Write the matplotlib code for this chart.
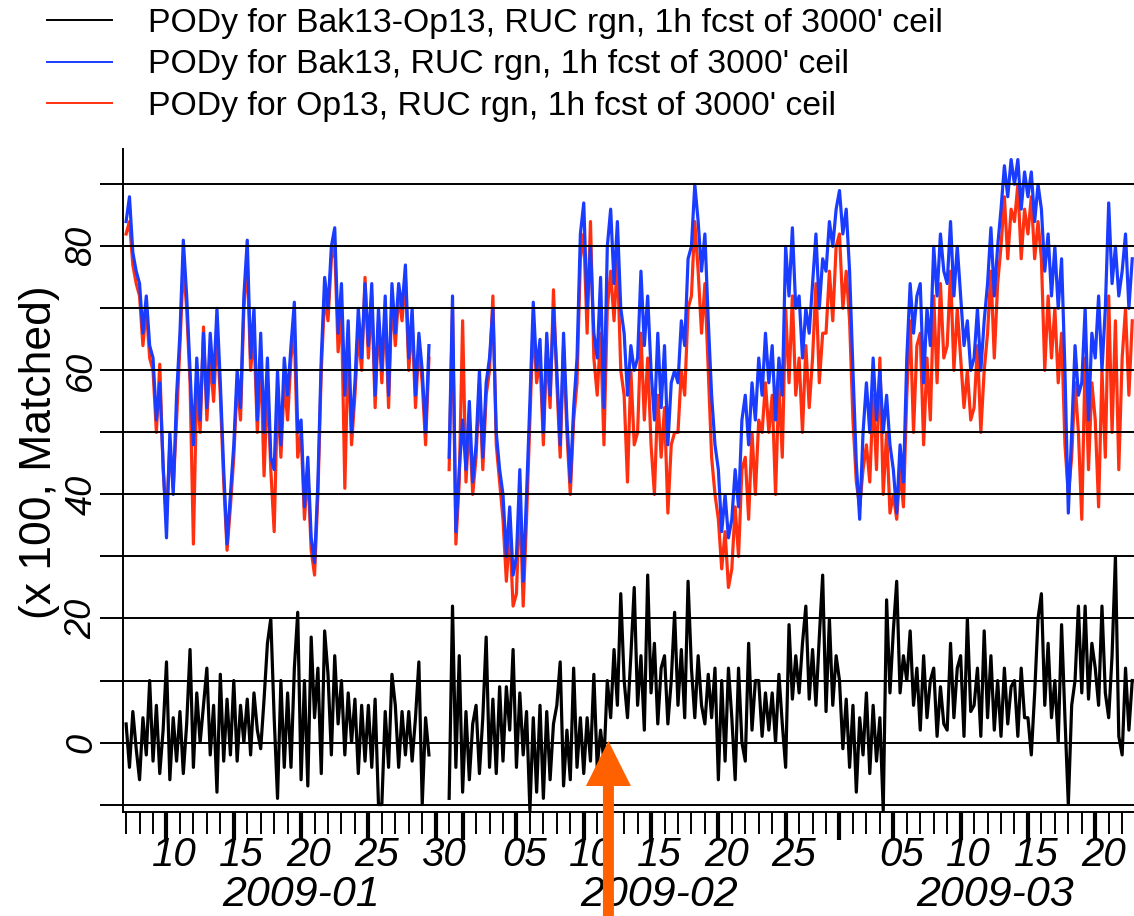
import numpy as np
import pandas as pd
import matplotlib
matplotlib.use("Agg")
import matplotlib.pyplot as plt
import matplotlib.dates as mdates
from matplotlib.lines import Line2D
from matplotlib.patches import FancyArrow
from matplotlib.transforms import blended_transform_factory, ScaledTranslation

nan = np.nan

# 6-hourly values (00, 06, 12, 18z) starting 2009-01-07
bak13 = [
    84, 88, 79, 76, 74, 66, 72, 64, 62, 52, 58, 45, 33, 50, 40, 56, 66, 81, 72, 60,
    48, 62, 52, 66, 54, 66, 58, 70, 58, 44, 32, 40, 48, 60, 54, 72, 81, 62, 70, 52,
    66, 50, 62, 46, 44, 60, 48, 62, 56, 64, 71, 50, 52, 38, 46, 33, 29, 42, 62, 75,
    70, 80, 83, 66, 74, 56, 68, 50, 58, 70, 62, 74, 64, 74, 56, 70, 60, 72, 56, 74,
    66, 74, 70, 77, 62, 70, 56, 66, 60, 50, 64, nan, nan, nan, nan, nan, 46, 72, 34, 44,
    52, 44, 55, 42, 48, 60, 46, 58, 62, 70, 50, 44, 40, 30, 38, 27, 30, 44, 26, 40,
    55, 71, 60, 65, 50, 66, 56, 70, 60, 48, 66, 52, 42, 54, 62, 82, 87, 70, 80, 66,
    62, 75, 54, 80, 86, 74, 84, 70, 66, 56, 64, 60, 62, 76, 64, 72, 60, 52, 66, 54,
    64, 48, 58, 60, 58, 68, 64, 78, 80, 90, 84, 76, 82, 68, 56, 48, 44, 34, 40, 33,
    36, 44, 38, 52, 56, 48, 58, 52, 62, 56, 66, 58, 64, 52, 62, 56, 80, 72, 83, 70,
    72, 62, 70, 66, 74, 82, 70, 78, 76, 84, 80, 86, 89, 82, 86, 76, 60, 45, 36, 50,
    58, 50, 62, 52, 60, 50, 56, 48, 44, 37, 48, 42, 62, 74, 66, 72, 74, 58, 70, 64,
    80, 72, 82, 76, 74, 84, 72, 80, 72, 64, 68, 60, 62, 70, 60, 68, 74, 83, 72, 80,
    86, 93, 88, 94, 90, 94, 86, 92, 88, 92, 84, 90, 86, 76, 82, 72, 80, 70, 78, 60,
    37, 50, 64, 56, 58, 70, 52, 66, 62, 72, 60, 70, 87, 74, 80, 72, 76, 82, 70, 78,
]

op13 = [
    82, 84, 77, 74, 72, 64, 70, 62, 60, 50, 61, 44, 36, 48, 41, 52, 64, 77, 70, 58,
    32, 58, 50, 67, 52, 62, 55, 66, 56, 42, 31, 38, 46, 58, 52, 70, 78, 60, 66, 50,
    62, 43, 58, 44, 34, 56, 46, 58, 52, 62, 66, 46, 50, 36, 44, 31, 27, 40, 60, 72,
    68, 78, 80, 63, 70, 41, 64, 48, 56, 66, 60, 75, 62, 72, 54, 68, 58, 70, 54, 72,
    64, 72, 68, 75, 60, 68, 54, 64, 58, 48, 62, nan, nan, nan, nan, nan, 44, 70, 32, 42,
    68, 42, 52, 40, 46, 58, 44, 56, 60, 72, 48, 42, 36, 26, 34, 22, 24, 40, 22, 36,
    52, 68, 58, 62, 48, 64, 54, 73, 58, 46, 64, 50, 40, 52, 58, 78, 82, 66, 84, 62,
    56, 66, 48, 70, 76, 68, 78, 60, 56, 42, 60, 48, 50, 66, 52, 62, 48, 40, 56, 46,
    54, 37, 48, 50, 50, 60, 56, 70, 72, 84, 76, 66, 74, 60, 46, 40, 36, 28, 34, 25,
    28, 38, 30, 44, 46, 36, 50, 40, 52, 50, 58, 50, 56, 40, 58, 46, 70, 58, 72, 56,
    62, 50, 64, 54, 62, 74, 58, 66, 66, 76, 68, 80, 82, 70, 76, 68, 52, 42, 38, 44,
    48, 42, 56, 44, 62, 40, 50, 37, 40, 36, 44, 38, 56, 68, 50, 64, 66, 48, 62, 52,
    72, 58, 74, 62, 64, 76, 60, 70, 62, 54, 60, 52, 54, 64, 50, 60, 66, 76, 62, 74,
    80, 88, 78, 86, 84, 90, 78, 86, 82, 88, 78, 84, 78, 60, 72, 62, 70, 58, 66, 48,
    40, 46, 58, 50, 36, 62, 44, 58, 52, 38, 60, 46, 72, 50, 68, 44, 62, 70, 56, 68,
]

diff = [
    3, -4, 5, -1, -6, 4, -2, 10, -3, 6, -5, 2, 13, -6, 4, -3, 5, -5, 3, 15,
    -4, 8, 0, 6, 12, -2, 6, -8, 11, -3, 7, -2, 10, -3, 6, 0, 7, -2, 8, 2,
    -1, 7, 16, 20, 4, -9, 10, -4, 8, -4, 12, 21, -6, 10, -7, 17, 4, 12, -5, 18,
    11, -2, 14, 3, 10, -2, 8, 0, 7, -5, 6, -3, 6, -4, 7, -10, -10, 5, -4, 11,
    6, -4, 5, -2, 5, -3, 4, 13, -10, 4, -2, nan, nan, nan, nan, nan, -9, 22, -4, 14,
    -8, 5, -6, 3, 6, -5, 4, 17, -4, 7, -5, 9, -3, 9, 2, 15, -4, 8, -2, 5,
    -11, 4, -8, 6, -9, 5, -6, 3, 6, 13, -7, 2, -6, 12, -4, 4, -5, 4, -3, 11,
    -4, 2, -3, 10, 4, 15, 6, 24, 10, 4, 14, 25, 6, 14, 2, 27, 8, 16, 3, 12,
    14, 3, 10, 21, 6, 15, 4, 26, 12, 4, 14, 6, 3, 11, 4, 12, -6, 10, -3, 12,
    4, -6, 12, 0, -3, 16, 2, 10, 10, 1, 8, 2, 8, 0, 11, 3, -4, 19, 7, 14,
    8, 16, 22, 7, 15, 6, 17, 27, 5, 20, 6, 14, 10, -1, 7, -4, 6, -8, 4, -2,
    8, -5, 6, -3, 4, -11, 23, 8, 18, 26, 8, 14, 10, 18, 6, 12, 2, 14, 4, 10,
    12, 1, 9, 3, 2, 16, 4, 12, 14, 1, 20, 5, 6, 12, 1, 18, 4, 14, 2, 10,
    1, 12, 3, 9, 10, 1, 12, 4, 4, -2, 8, 20, 24, 6, 16, 4, 10, 0, 19, 4,
    -10, 6, 10, 22, 8, 22, 7, 16, 12, 6, 22, 8, 4, 14, 30, 1, -2, 12, 2, 10,
]

series_labels = [
    "PODy for Bak13-Op13, RUC rgn, 1h fcst of 3000' ceil",
    "PODy for Bak13, RUC rgn, 1h fcst of 3000' ceil",
    "PODy for Op13, RUC rgn, 1h fcst of 3000' ceil",
]
day_ticks = ["2009-01-10", "2009-01-15", "2009-01-20", "2009-01-25", "2009-01-30",
             "2009-02-05", "2009-02-10", "2009-02-15", "2009-02-20", "2009-02-25",
             "2009-03-05", "2009-03-10", "2009-03-15", "2009-03-20"]
month_starts = ["2009-02-01", "2009-03-01"]
month_labels = ["2009-01", "2009-02", "2009-03"]
change_time = "2009-02-11 20:00"

BLUE = "#1a3cff"
RED = "#ff3010"
ORANGE = "#ff6000"

plt.rcParams["font.family"] = ["Liberation Sans", "DejaVu Sans"]

times = pd.date_range("2009-01-07", periods=len(bak13), freq="6h")
W, H = 1134, 916

fig = plt.figure(figsize=(W / 100, H / 100), dpi=100)
ax = fig.add_axes([123 / W, 1 - 812 / H, 1 - 123 / W, (812 - 149) / H])

ax.plot(times, diff, color="black", lw=2.3, zorder=2)
ax.plot(times, op13, color=RED, lw=2.3, zorder=2)
ax.plot(times, bak13, color=BLUE, lw=2.3, zorder=2)

x0 = pd.Timestamp("2009-01-06 18:28")
x1 = pd.Timestamp("2009-03-22 21:07")
ax.set_xlim(x0, x1)
ax.set_ylim(-11.2, 95.7)

# horizontal rules, running a bit past the left axis
ax.hlines(np.arange(-10, 100, 10), -23 / 1011, 1, transform=ax.get_yaxis_transform(),
          colors="black", lw=1.4, clip_on=False, zorder=3)

for s in ["top", "right"]:
    ax.spines[s].set_visible(False)
for s in ["left", "bottom"]:
    ax.spines[s].set_linewidth(1.4)

ax.set_yticks([0, 20, 40, 60, 80])
ax.set_yticklabels(["0", "20", "40", "60", "80"], rotation=90, va="center",
                   fontsize=26, style="italic")
ax.tick_params(axis="y", length=0, pad=17)

major = pd.to_datetime(day_ticks + month_starts)
ax.set_xticks(major)
ax.set_xticklabels([])
ax.xaxis.set_minor_locator(mdates.DayLocator())
ax.tick_params(axis="x", which="major", length=20, width=3.0, direction="out")
ax.tick_params(axis="x", which="minor", length=16, width=1.4, direction="out")

tr = blended_transform_factory(ax.transData, fig.transFigure)
shift = ScaledTranslation(8 / 100, 0, fig.dpi_scale_trans)
for d in pd.to_datetime(day_ticks):
    ax.text(d, 1 - 866 / H, d.strftime("%d"), transform=tr + shift, ha="center",
            va="baseline", fontsize=29, style="italic", clip_on=False)

edges = [x0] + list(pd.to_datetime(month_starts)) + [x1]
for lab, a, b in zip(month_labels, edges[:-1], edges[1:]):
    ax.text(a + (b - a) / 2, 1 - 906 / H, lab, transform=tr + shift, ha="center",
            va="baseline", fontsize=31, style="italic", clip_on=False)

# legend at the top left
for i, (lab, col) in enumerate(zip(series_labels, ["black", BLUE, RED])):
    yc = 20 + 41.5 * i
    fig.add_artist(Line2D([47 / W, 112 / W], [1 - yc / H, 1 - yc / H], color=col, lw=1.4))
    fig.text(148 / W, 1 - (yc + 12) / H, lab, fontsize=24.3, ha="left", va="baseline")

fig.text(40 / W, 1 - 452 / H, "(x 100, Matched)", rotation=90, fontsize=32,
         ha="center", va="center")

# orange arrow marking the switch
xa = fig.transFigure.inverted().transform(ax.transData.transform(
    (mdates.date2num(pd.Timestamp(change_time)), 0)))[0]
fig.add_artist(FancyArrow(xa, 0, 0, (H - 741) / H, width=11 / W, head_width=45 / W,
                          head_length=45 / H, length_includes_head=True,
                          color=ORANGE, lw=0, transform=fig.transFigure, zorder=10))

fig.savefig("out.png", dpi=100)
